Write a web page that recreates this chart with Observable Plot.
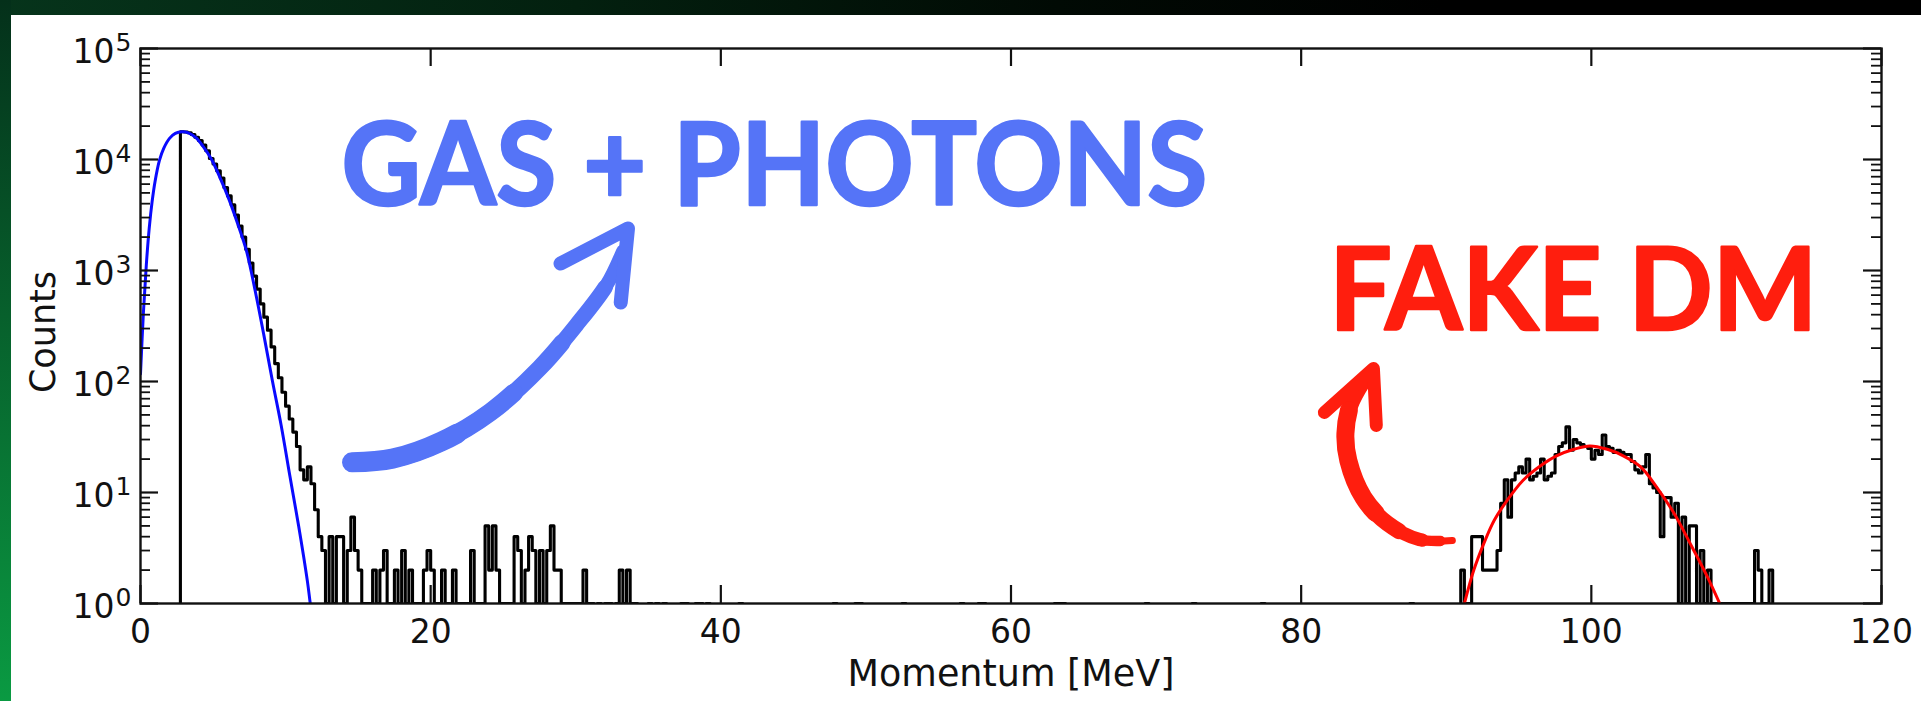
<!DOCTYPE html>
<html>
<head>
<meta charset="utf-8">
<script src="https://cdn.jsdelivr.net/npm/d3@7"></script>
<script src="https://cdn.jsdelivr.net/npm/@observablehq/plot@0.6"></script>
<style>
  html, body { margin: 0; padding: 0; width: 1921px; height: 701px; overflow: hidden; background: #000; }
  #band-top { position: absolute; left: 0; top: 0; width: 1921px; height: 15px;
    background: linear-gradient(to right, #06341b 0%, #03200f 30%, #010a04 55%, #000 75%); }
  #band-left { position: absolute; left: 0; top: 0; width: 11px; height: 701px;
    background: linear-gradient(to bottom, #04301a 0%, #07602c 45%, #0a9a42 100%); }
  #chart { position: absolute; left: 11px; top: 15px; width: 1910px; height: 686px; background: #fff; }
</style>
</head>
<body>
<div id="band-top"></div>
<div id="band-left"></div>
<div id="chart"></div>
<script>
// Momentum histogram: 0.25 MeV bins, counts per bin
const binWidth = 0.25;

// gas + photon bins, contiguous from 2.75 MeV up to 34.25 MeV
const gasStart = 2.75;
const gasCounts = [
  17800,
  17700, 17400, 16800, 15850,
  14800, 13500, 12000, 10200,
  9100, 7900, 6800, 5600,
  4700, 3900, 3160, 2510,
  2000, 1550, 1170, 890,
  680, 500, 380, 290,
  205, 145, 108, 80,
  60, 46, 35, 26,
  16, 13, 17, 12,
  7, 4, 3, 1,
  4, 1, 4, 4,
  1, 3, 6, 3,
  2, 1, 1, 1,
  2, 1, 2, 3,
  1, 1, 2, 1,
  3, 1, 2, 1,
  1, 1, 2, 3,
  2, 1, 1, 2,
  1, 1, 2, 1,
  1, 1, 1, 3,
  1, 1, 1, 5,
  2, 5, 2, 1,
  1, 1, 1, 4,
  3, 1, 2, 4,
  3, 1, 3, 1,
  3, 5, 2, 2,
  1, 1, 1, 1,
  1, 1, 2, 1,
  1, 0, 1, 0,
  1, 1, 0, 1,
  2, 1, 2, 1,
  1
];

// isolated single-count bins (left edges, MeV) between the two populations
const strayBins = [35.0, 35.5, 36.0, 37.25, 37.5, 38.25, 38.5, 39.0, 41.25, 47.75, 49.25, 49.5,
  52.5, 56.5, 57.75, 58.0, 63.0, 63.25, 63.5, 69.25, 72.5, 77.25, 87.5];

// dark-matter candidate bins, contiguous from 91.0 MeV up to 112.5 MeV
const dmStart = 91.0;
const dmCounts = [
  2, 1, 1, 4, 4, 4, 2, 2, 2, 2, 3, 8,
  13, 6, 13, 15, 17, 15, 20, 13, 14, 15, 20, 13,
  14, 15, 22, 26, 28, 39, 24, 30, 28, 27, 26, 25,
  20, 24, 22, 33, 26, 25, 23, 24, 23, 22, 22, 19,
  16, 15, 17, 22, 12, 11, 10, 4, 9, 9, 6, 8,
  1, 6, 1, 5, 5, 1, 3, 1, 2, 1, 1, 1,
  1, 1, 1, 1, 1, 1, 1, 1, 1,
  3, 2, 1, 1, 2
];

// fitted spectra
const gasFitMomentum = [0, 0.2, 0.4, 0.6, 0.8, 1.0, 1.3, 1.6, 2.0, 2.4, 2.85, 3.3, 3.8, 4.3, 4.9,
  5.5, 6.1, 6.7, 7.3, 7.9, 8.5, 9.1, 9.7, 10.3, 10.9, 11.5, 11.7, 12.0];
const gasFitCounts = [117, 417, 1120, 2400, 4170, 6310, 9770, 12600, 15500, 17200, 17800, 17400, 15800, 13200, 10000,
  6760, 4370, 2630, 1510, 660, 263, 100, 40, 14, 5, 1.6, 1, 0.5];
const dmFitMomentum = [91.25, 91.9, 92.6, 93.3, 94.2, 95.3, 96.5, 97.6, 98.8, 99.9, 101.1, 102.2,
  103.4, 104.5, 105.7, 106.8, 108.0, 108.85];
const dmFitCounts = [1.0, 2.0, 3.5, 5.6, 8.5, 12.9, 17.4, 21.4, 24.5, 26.3, 24.5, 21.4,
  17.0, 11.2, 6.5, 3.5, 1.74, 1.0];

// axis ticks
const xTicks = [0, 20, 40, 60, 80, 100, 120];
const decades = [0, 1, 2, 3, 4, 5];

// hand-drawn notes (anchored in momentum / counts)
const noteText = ["GAS + PHOTONS", "FAKE DM"];
const noteMomentum = [13.85, 81.94];
const noteCounts = [3855, 294];
const gasArrowMomentum = [14.58, 17.37, 20.74, 24.12, 27.50, 30.03, 32.14, 33.25];
const gasArrowCounts = [18.7, 20.2, 28.8, 53.0, 132, 321, 745, 1480];
const gasHeadMomentum = [28.95, 33.6, 33.1];
const gasHeadCounts = [1156, 2390, 515];
const dmArrowMomentum = [90.42, 88.15, 85.94, 84.29, 83.25, 83.05, 83.39, 84.22];
const dmArrowCounts = [3.70, 3.77, 5.26, 9.02, 19.4, 34.0, 60.8, 97.9];
const dmHeadMomentum = [81.6, 84.98, 85.18];
const dmHeadCounts = [52.6, 131, 40.2];

// ---- assemble the step outline of the histogram ----
const lastEdge = 112.5;
const nBins = Math.round((lastEdge - gasStart) / binWidth);
const counts = new Array(nBins).fill(0);
const binIndex = m => Math.round((m - gasStart) / binWidth);
gasCounts.forEach((c, i) => { counts[i] = c; });
strayBins.forEach(m => { counts[binIndex(m)] = 1; });
dmCounts.forEach((c, i) => { counts[binIndex(dmStart) + i] = c; });
const floor = 0.3; // empty bins fall below the log axis and get clipped
const outline = [{x: gasStart, y: floor}];
counts.forEach((c, i) => outline.push({x: gasStart + i * binWidth, y: c > 0 ? c : floor}));
outline.push({x: gasStart + nBins * binWidth, y: floor});

const zip = (xs, ys) => xs.map((x, i) => ({x, y: ys[i]}));
const gasFit = zip(gasFitMomentum, gasFitCounts);
const dmFit = zip(dmFitMomentum, dmFitCounts);
const notes = noteText.map((t, i) => ({t, x: noteMomentum[i], y: noteCounts[i]}));
const gasArrow = zip(gasArrowMomentum, gasArrowCounts);
const dmArrow = zip(dmArrowMomentum, dmArrowCounts);

const majorY = decades.map(d => 10 ** d);
const minorY = decades.slice(0, -1).flatMap(d => d3.range(2, 10).map(m => m * 10 ** d));

const W = 1910, H = 686;
const mL = 129, mR = 40, mT = 33, mB = 98;
const fw = W - mL - mR, fh = H - mT - mB;
const ink = "#111";
const blue = "#5574f7", red = "#ff1e0e";
const pen = {x: "x", y: "y", curve: "catmull-rom", strokeLinecap: "round", strokeLinejoin: "round"};

// marker stroke: one base stroke plus wider dashed passes over the same curve,
// each pass = [width, distance from the tail where it starts, length] in pixels
function marker(data, color, base, passes) {
  return [
    Plot.line(data, {...pen, stroke: color, strokeWidth: base}),
    ...passes.map(([w, start, len]) => Plot.line(data, {...pen, stroke: color, strokeWidth: w,
      strokeDasharray: `${len},100000`, strokeDashoffset: -start}))
  ];
}

const chart = Plot.plot({
  width: W, height: H,
  marginLeft: mL, marginRight: mR, marginTop: mT, marginBottom: mB,
  style: {background: "#fff", fontFamily: "'DejaVu Sans', sans-serif", overflow: "visible"},
  x: {domain: [0, 120], axis: null},
  y: {type: "log", domain: [1, 1e5], axis: null},
  marks: [
    Plot.line(outline, {x: "x", y: "y", curve: "step-after", stroke: "#000", strokeWidth: 3.1, clip: true}),
    Plot.line(gasFit, {x: "x", y: "y", curve: "catmull-rom", stroke: "#0a0aff", strokeWidth: 3, clip: true}),
    Plot.line(dmFit, {x: "x", y: "y", curve: "catmull-rom", stroke: "#ff0000", strokeWidth: 3, clip: true}),
    Plot.frame({stroke: ink, strokeWidth: 2.4}),
    // inward ticks on all four sides
    Plot.ruleX(xTicks, {x: d => d, insetTop: fh - 18, stroke: ink, strokeWidth: 2.2}),
    Plot.ruleX(xTicks, {x: d => d, insetBottom: fh - 18, stroke: ink, strokeWidth: 2.2}),
    Plot.ruleY(majorY, {y: d => d, insetRight: fw - 18, stroke: ink, strokeWidth: 2.2}),
    Plot.ruleY(majorY, {y: d => d, insetLeft: fw - 18, stroke: ink, strokeWidth: 2.2}),
    Plot.ruleY(minorY, {y: d => d, insetRight: fw - 10, stroke: ink, strokeWidth: 1.8}),
    Plot.ruleY(minorY, {y: d => d, insetLeft: fw - 10, stroke: ink, strokeWidth: 1.8}),
    // tick labels
    Plot.text(xTicks, {x: d => d, text: d => String(d), frameAnchor: "bottom", textAnchor: "middle",
      lineAnchor: "bottom", dy: 39, fontSize: 33, fill: ink}),
    Plot.text(decades, {y: d => 10 ** d, text: () => "10", frameAnchor: "left", textAnchor: "end",
      lineAnchor: "bottom", dx: -26, dy: 14, fontSize: 33, fill: ink}),
    Plot.text(decades, {y: d => 10 ** d, text: d => String(d), frameAnchor: "left", textAnchor: "start",
      lineAnchor: "bottom", dx: -25, dy: 2, fontSize: 25, fill: ink}),
    // axis titles
    Plot.text(["Momentum [MeV]"], {frameAnchor: "bottom", textAnchor: "middle", lineAnchor: "bottom",
      dy: 82, fontSize: 36.5, fill: ink}),
    Plot.text(["Counts"], {frameAnchor: "left", textAnchor: "middle", rotate: -90, lineAnchor: "middle",
      dx: -97, dy: 6, fontSize: 35, fill: ink}),
    // hand-drawn arrows
    ...marker(gasArrow, blue, 14, [[15.5, 0, 320], [17, 0, 250], [18.5, 0, 180], [20, 0, 110]]),
    Plot.line(zip(gasHeadMomentum, gasHeadCounts), {...pen, curve: "linear", stroke: blue, strokeWidth: 14}),
    ...marker(dmArrow, red, 7, [[10.5, 12, 1000], [13.5, 30, 1000], [16, 55, 1000], [18, 85, 110]]),
    Plot.line(zip(dmHeadMomentum, dmHeadCounts), {...pen, curve: "linear", stroke: red, strokeWidth: 13}),
    // hand-drawn labels
    Plot.text(notes, {x: "x", y: "y", text: "t", textAnchor: "start", lineAnchor: "bottom",
      fontFamily: "Lato, 'DejaVu Sans', sans-serif", fontWeight: 700, fontSize: 114,
      fill: (d, i) => i === 0 ? blue : red, stroke: (d, i) => i === 0 ? blue : red,
      strokeWidth: 2.5, strokeLinejoin: "round"})
  ]
});

// the marker lettering is narrower than the font: fit each label to its width
const noteWidths = [866, 488];
d3.select(chart).selectAll("text")
  .filter(function () { return noteText.includes(this.textContent); })
  .attr("textLength", function () { return noteWidths[noteText.indexOf(this.textContent)]; })
  .attr("lengthAdjust", "spacingAndGlyphs");

document.getElementById("chart").appendChild(chart);
</script>
</body>
</html>
